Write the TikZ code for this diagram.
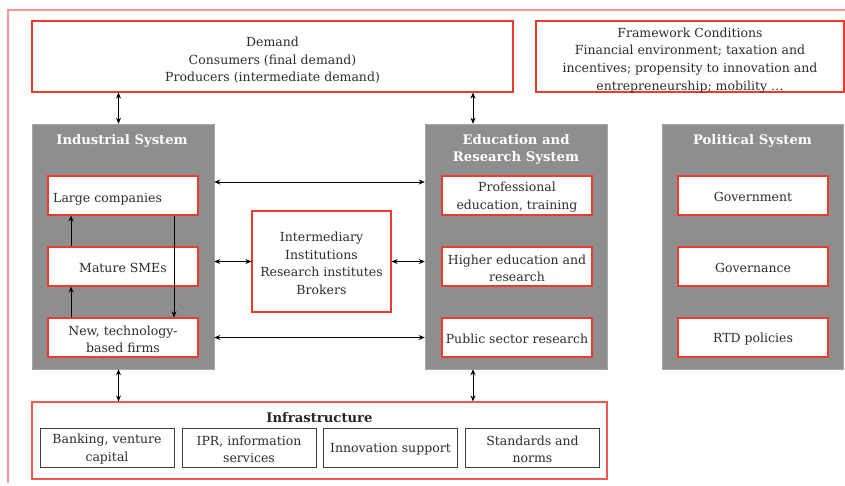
\documentclass[tikz,border=0pt]{standalone}
\usepackage{fontspec}
\setmainfont{DejaVu Serif}
\usetikzlibrary{arrows.meta}
\definecolor{boxred}{RGB}{240,58,48}
\definecolor{framepink}{RGB}{255,150,150}
\definecolor{sysgrey}{RGB}{142,142,142}
\definecolor{txt}{RGB}{45,45,45}
% taller first line so that stacked labels sit a little lower in their boxes
\newcommand\firststrut{\rule{0pt}{13pt}}
\begin{document}
\begin{tikzpicture}[x=1pt,y=-1pt,
  every node/.style={font=\fontsize{12.5}{17.6}\selectfont, text=txt, align=center, inner sep=0pt,
    execute at begin node={\firststrut}},
  redbox/.style={draw=boxred, line width=1.2pt, fill=white, rectangle},
  sysbox/.style={fill=sysgrey, draw=sysgrey!80, line width=0.5pt, rectangle, minimum width=182, minimum height=245},
  unit/.style={redbox, minimum width=150, minimum height=39},
  infrabox/.style={draw=black!75, line width=1pt, fill=white, rectangle, minimum width=134, minimum height=39},
  systitle/.style={font=\bfseries\fontsize{13.2}{17.2}\selectfont, text=white},
  dbl/.style={{Stealth[length=6pt,width=5pt]}-{Stealth[length=6pt,width=5pt]}, line width=0.8pt, black},
  single/.style={-{Stealth[length=6pt,width=5pt]}, line width=0.8pt, black}]
\useasboundingbox (0,0) rectangle (845,485);

% outer frame
\draw[framepink, line width=1.3pt] (8,483) -- (8,10) -- (845,10);

% top row
\node[redbox, minimum width=481, minimum height=71] (demand) at (272.5,56.5) {};
\node (demandtext) at (272.5,58.5) {\firststrut Demand\\Consumers (final demand)\\Producers (intermediate demand)};
\node[redbox, minimum width=308, minimum height=71] (frame) at (690,56.5) {};
\node (frametext) at (690,58.5) {\firststrut Framework Conditions\\Financial environment; taxation and\\incentives; propensity to innovation and\\entrepreneurship; mobility \ldots};

% systems
\node[sysbox] (ind) at (123,246.5) {};
\node[sysbox] (edu) at (516,246.5) {};
\node[sysbox, minimum width=181] (pol) at (752.5,246.5) {};
\node[systitle] (indtitle) at (122,139.5) {Industrial System};
\node[systitle] (edutitle) at (516,148) {\firststrut Education and\\Research System};
\node[systitle] (poltitle) at (752.5,139.5) {Political System};

% industrial units
\node[unit] (large) at (123,195.5) {};
\node[anchor=west] (largetext) at (53,197) {Large companies};
\node[unit] (mature) at (123,266.5) {Mature SMEs};
\node[unit] (newf) at (123,337.5) {\firststrut New, technology-\\based firms};

% education units
\node[unit] (prof) at (517,195.5) {\firststrut Professional\\education, training};
\node[unit] (higher) at (517,266.5) {\firststrut Higher education and\\research};
\node[unit] (public) at (517,337.5) {Public sector research};

% political units
\node[unit] (gov) at (753,195.5) {Government};
\node[unit] (govern) at (753,266.5) {Governance};
\node[unit] (rtd) at (753,337.5) {RTD policies};

% intermediaries
\node[redbox, minimum width=139, minimum height=101] (inter) at (321.5,261.5) {\firststrut Intermediary\\Institutions\\Research institutes\\Brokers};

% infrastructure
\node[draw=boxred!85, line width=1.2pt, fill=white, rectangle, minimum width=575, minimum height=77] (infra) at (319.5,440.5) {};
\node[font=\bfseries\fontsize{13.2}{17.2}\selectfont, text=black!85] (infratitle) at (319.5,416.5) {Infrastructure};
\node[infrabox] (bank) at (107,447.5) {\firststrut Banking, venture\\capital};
\node[infrabox] (ipr) at (249,447.5) {\firststrut IPR, information\\services};
\node[infrabox] (innov) at (390.5,447.5) {Innovation support};
\node[infrabox] (stand) at (532.5,447.5) {\firststrut Standards and\\norms};

% links to demand and infrastructure
\draw[dbl] ([xshift=-4.5pt]ind.north) -- ([xshift=-4.5pt]ind.north |- demand.south);
\draw[dbl] ([xshift=-43pt]edu.north) -- ([xshift=-43pt]edu.north |- demand.south);
\draw[dbl] ([xshift=-4.5pt]ind.south) -- ([xshift=-4.5pt]ind.south |- infra.north);
\draw[dbl] ([xshift=-43pt]edu.south) -- ([xshift=-43pt]edu.south |- infra.north);

% links between industry and education
\draw[dbl] ([yshift=64.5pt]ind.east) -- ([yshift=64.5pt]edu.west);
\draw[dbl] (ind.east |- inter.west) -- (inter.west);
\draw[dbl] (inter.east) -- (edu.west |- inter.east);
\draw[dbl] (ind.east |- newf.east) -- (edu.west |- newf.east);

% growth paths inside the industrial system
\draw[single] ([xshift=-52pt]mature.north) -- ([xshift=-52pt]large.south);
\draw[single] ([xshift=-52pt]newf.north) -- ([xshift=-52pt]mature.south);
\draw[single] ([xshift=51pt]large.south) -- ([xshift=51pt]newf.north);
\end{tikzpicture}
\end{document}
